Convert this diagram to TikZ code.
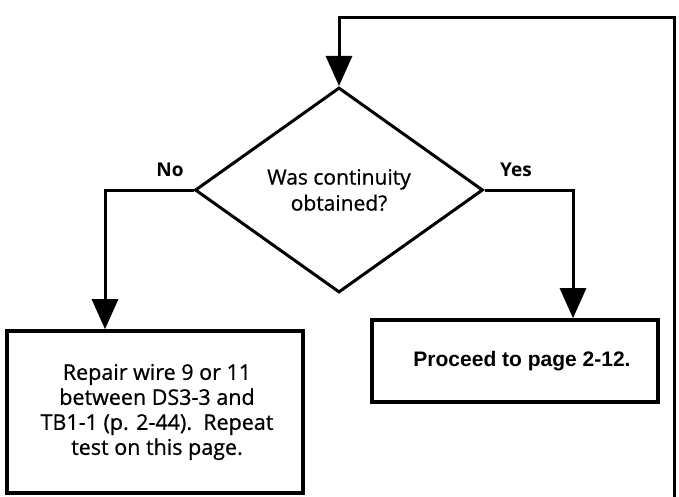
\documentclass[tikz,border=0pt]{standalone}
\usepackage{fontspec}
\setmainfont{Open Sans}
\newfontfamily\bodyfont[FakeBold=0.8]{Open Sans}
\newfontfamily\helvbold{Liberation Sans}
\usetikzlibrary{shapes.geometric,arrows.meta}

\tikzset{
  flow/.style={line width=3pt},
  arr/.style={flow,-{Triangle[width=26pt,length=30pt]}},
  question/.style={draw,flow,diamond,inner sep=0pt,minimum width=288pt,minimum height=205pt,
    align=center,font=\bodyfont\fontsize{21}{26}\selectfont},
  actbox/.style={draw,line width=3.6pt,rectangle,inner sep=0pt,align=center},
  branchlabel/.style={font=\fontsize{19}{22}\selectfont\bfseries}
}

\begin{document}
\begin{tikzpicture}[x=1pt,y=-1pt]
  \useasboundingbox (0,0) rectangle (679,497);

  % decision
  \node[question] (q) at (339,190) {Was continuity\\obtained?};

  % outcomes
  \node[actbox,minimum width=296pt,minimum height=162pt,
        font=\bodyfont\fontsize{21.5}{25}\selectfont] (rep) at (155,412)
        {\hspace*{4pt}Repair wire 9 or 11\\\hspace*{4pt}between DS3-3 and\\\hspace*{4pt}TB1-1 (p. 2-44).\ \ Repeat\\\hspace*{4pt}test on this page.};
  \node[actbox,minimum width=286pt,minimum height=82pt,
        font=\helvbold\fontsize{21}{24}\selectfont\bfseries] (pro) at (515,361)
        {\hspace*{14pt}Proceed to page 2-12.};

  % branch labels
  \node[branchlabel] (no) at (170,170) {No};
  \node[branchlabel] (yes) at (516,170) {Yes};

  % connectors
  \draw[arr] (q.west) -| ([xshift=-50pt]rep.north);
  \draw[arr] (q.east) -| ([xshift=58pt]pro.north);

  % return line from the lower part of the page
  \coordinate (back) at (674,497);
  \coordinate (corner) at (674,18);
  \draw[arr] (back) -- (corner) -| (q.north);
\end{tikzpicture}
\end{document}
